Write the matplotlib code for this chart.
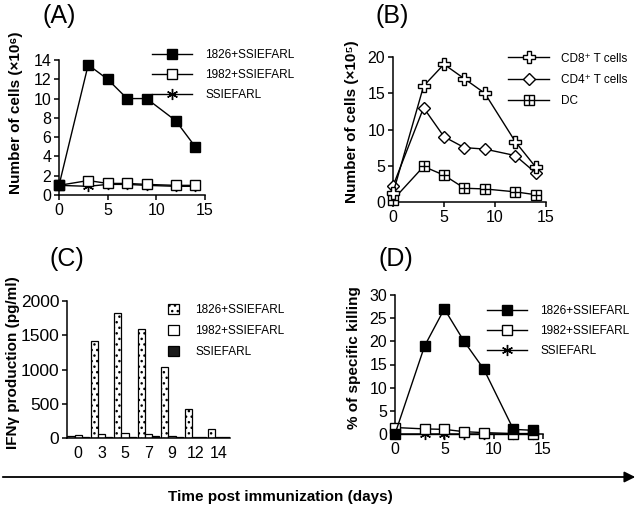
import matplotlib
matplotlib.use("Agg")
import matplotlib.pyplot as plt
import numpy as np

plt.rcParams['font.family'] = ['Liberation Sans', 'DejaVu Sans']

# ---------------- data ----------------
days = [0, 3, 5, 7, 9, 12, 14]

# (A) Number of cells (x10^6)
a_1826 = [1.0, 13.5, 12.0, 10.0, 10.0, 7.7, 5.0]
a_1982 = [1.0, 1.5, 1.2, 1.2, 1.1, 1.0, 1.0]
a_ssie = [1.0, 0.9, 1.1, 1.1, 1.0, 0.9, 0.9]
a_labels = ['1826+SSIEFARL', '1982+SSIEFARL', 'SSIEFARL']

# (B) Number of cells (x10^5)
b_cd8 = [1.2, 16.0, 19.0, 17.0, 15.0, 8.3, 4.8]
b_cd4 = [2.2, 13.0, 9.0, 7.5, 7.3, 6.4, 4.0]
b_dc = [0.3, 4.9, 3.7, 1.9, 1.8, 1.4, 1.0]
b_labels = ['CD8\u207a T cells', 'CD4\u207a T cells', 'DC']

# (C) IFN-gamma production (pg/ml)
c_cats = ['0', '3', '5', '7', '9', '12', '14']
c_1826 = [30, 1410, 1830, 1585, 1035, 430, 135]
c_1982 = [50, 60, 80, 60, 30, 10, 10]
c_ssie = [20, 20, 20, 30, 20, 10, 10]
c_labels = ['1826+SSIEFARL', '1982+SSIEFARL', 'SSIEFARL']

# (D) % of specific killing
d_1826 = [0.0, 19.0, 27.0, 20.0, 14.0, 1.0, 0.8]
d_1982 = [1.4, 1.1, 1.0, 0.5, 0.3, 0.1, 0.1]
d_ssie = [0.1, 0.1, 0.1, 0.1, 0.1, 0.1, 0.1]
d_labels = ['1826+SSIEFARL', '1982+SSIEFARL', 'SSIEFARL']

# ---------------- figure ----------------
W, H = 639, 514
fig = plt.figure(figsize=(W / 100, H / 100), dpi=100)

def axes_px(x0, x1, ybot, ytop):
    return fig.add_axes([x0 / W, (H - ybot) / H, (x1 - x0) / W, (ybot - ytop) / H])

def style(ax, tick_fs=11.5):
    for s in ['top', 'right']:
        ax.spines[s].set_visible(False)
    for s in ['left', 'bottom']:
        ax.spines[s].set_linewidth(1.1)
    ax.tick_params(direction='out', length=3.5, width=1.1, labelsize=tick_fs, pad=2)

def fx(px):
    return px / W

def fy(py):
    return (H - py) / H

LW = 1.0
leg_fs = 8.5

# ---- (A) ----
axA = axes_px(59, 205, 195, 60)
axA.plot(days, a_ssie, color='k', lw=LW, marker=(6, 2, 0), ms=8, mew=1.0,
         clip_on=False, label=a_labels[2], zorder=3)
axA.plot(days, a_1982, color='k', lw=LW, marker='s', ms=7.5, mfc='white', mec='k',
         mew=1.0, clip_on=False, label=a_labels[1], zorder=4)
axA.plot(days, a_1826, color='k', lw=LW, marker='s', ms=7.5, mfc='k', mec='k',
         clip_on=False, label=a_labels[0], zorder=5)
axA.set_xlim(0, 15)
axA.set_ylim(0, 14)
axA.set_xticks([0, 5, 10, 15])
axA.set_yticks(range(0, 15, 2))
style(axA)
h, l = axA.get_legend_handles_labels()
axA.legend(h[::-1], l[::-1], loc='center left', bbox_to_anchor=(fx(152), fy(75)),
           bbox_transform=fig.transFigure, frameon=False, fontsize=leg_fs,
           borderpad=0, borderaxespad=0, handlelength=3.4, handletextpad=1.1,
           labelspacing=0.7, numpoints=1)

# ---- (B) ----
axB = axes_px(393, 546, 202, 57)
l8, = axB.plot(days, b_cd8, color='k', lw=LW, marker='P', ms=8.5, mfc='white', mec='k',
               mew=1.0, clip_on=False, zorder=5)
l4, = axB.plot(days, b_cd4, color='k', lw=LW, marker='D', ms=6, mfc='white', mec='k',
               mew=1.0, clip_on=False, zorder=4)
ld, = axB.plot(days, b_dc, color='k', lw=LW, marker='s', ms=7.5, mfc='white', mec='k',
               mew=1.0, clip_on=False, zorder=3)
ldp, = axB.plot(days, b_dc, ls='none', marker='+', ms=7.5, mec='k', mew=1.0,
                clip_on=False, zorder=3.5)
axB.set_xlim(0, 15)
axB.set_ylim(0, 20)
axB.set_xticks([0, 5, 10, 15])
axB.set_yticks([0, 5, 10, 15, 20])
style(axB)
axB.legend([l8, l4, (ld, ldp)], b_labels, loc='center left',
           bbox_to_anchor=(fx(508), fy(80)), bbox_transform=fig.transFigure,
           frameon=False, fontsize=leg_fs, borderpad=0, borderaxespad=0,
           handlelength=3.5, handletextpad=1.0, labelspacing=0.8, numpoints=1)

# ---- (C) ----
axC = axes_px(67, 230, 438, 301)
x = np.arange(len(c_cats))
bw = 0.3
axC.bar(x - bw, c_1826, width=bw, color='white', edgecolor='k', hatch='...',
        lw=0.9, label=c_labels[0])
axC.bar(x, c_1982, width=bw, color='white', edgecolor='k', lw=0.9, label=c_labels[1])
axC.bar(x + bw, c_ssie, width=bw, color='#1a1a1a', edgecolor='k', lw=0.9,
        label=c_labels[2])
axC.set_xlim(-0.47, 6.47)
axC.set_ylim(0, 2000)
axC.set_xticks(x)
axC.set_xticklabels(c_cats)
axC.set_yticks([0, 500, 1000, 1500, 2000])
style(axC, tick_fs=12.5)
axC.tick_params(axis='x', length=0, pad=6, labelsize=11.5)
axC.legend(loc='center left', bbox_to_anchor=(fx(168), fy(331)),
           bbox_transform=fig.transFigure, frameon=False, fontsize=leg_fs,
           borderpad=0, borderaxespad=0, handlelength=0.9, handleheight=0.9,
           handletextpad=1.4, labelspacing=0.75)

# ---- (D) ----
axD = axes_px(395, 543, 434, 295)
axD.plot(days, d_ssie, color='k', lw=LW, marker=(6, 2, 0), ms=8, mew=1.0,
         clip_on=False, label=d_labels[2], zorder=3)
axD.plot(days, d_1982, color='k', lw=LW, marker='s', ms=7.5, mfc='white', mec='k',
         mew=1.0, clip_on=False, label=d_labels[1], zorder=4)
axD.plot(days, d_1826, color='k', lw=LW, marker='s', ms=7.5, mfc='k', mec='k',
         clip_on=False, label=d_labels[0], zorder=5)
axD.set_xlim(0, 15)
axD.set_ylim(0, 30)
axD.set_xticks([0, 5, 10, 15])
axD.set_yticks(range(0, 31, 5))
style(axD)
h, l = axD.get_legend_handles_labels()
axD.legend(h[::-1], l[::-1], loc='center left', bbox_to_anchor=(fx(487), fy(331)),
           bbox_transform=fig.transFigure, frameon=False, fontsize=leg_fs,
           borderpad=0, borderaxespad=0, handlelength=3.4, handletextpad=1.1,
           labelspacing=0.7, numpoints=1)

# ---- y labels ----
yl_fs = 11
fig.text(fx(16), fy(113), 'Number of cells (\u00d710\u2076)', rotation=90,
         ha='center', va='center', fontsize=yl_fs, fontweight='bold')
fig.text(fx(352), fy(122), 'Number of cells (\u00d710\u2075)', rotation=90,
         ha='center', va='center', fontsize=yl_fs, fontweight='bold')
fig.text(fx(13), fy(363), 'IFN\u03b3 production (pg/ml)', rotation=90,
         ha='center', va='center', fontsize=yl_fs, fontweight='bold')
fig.text(fx(354), fy(358), '% of specific killing', rotation=90,
         ha='center', va='center', fontsize=yl_fs, fontweight='bold')

# ---- panel labels ----
pl_fs = 18
fig.text(fx(59), fy(16), '(A)', ha='center', va='center', fontsize=pl_fs)
fig.text(fx(392), fy(16), '(B)', ha='center', va='center', fontsize=pl_fs)
fig.text(fx(67), fy(259), '(C)', ha='center', va='center', fontsize=pl_fs)
fig.text(fx(396), fy(259), '(D)', ha='center', va='center', fontsize=pl_fs)

# ---- bottom arrow and label ----
fig.add_artist(matplotlib.patches.FancyArrowPatch(
    (0, fy(477)), (fx(638), fy(477)), transform=fig.transFigure,
    arrowstyle='-|>', mutation_scale=16, lw=1.3, color='k'))
fig.text(fx(280), fy(497), 'Time post immunization (days)', ha='center', va='center',
         fontsize=11, fontweight='bold')

fig.savefig('out.png', dpi=100)
